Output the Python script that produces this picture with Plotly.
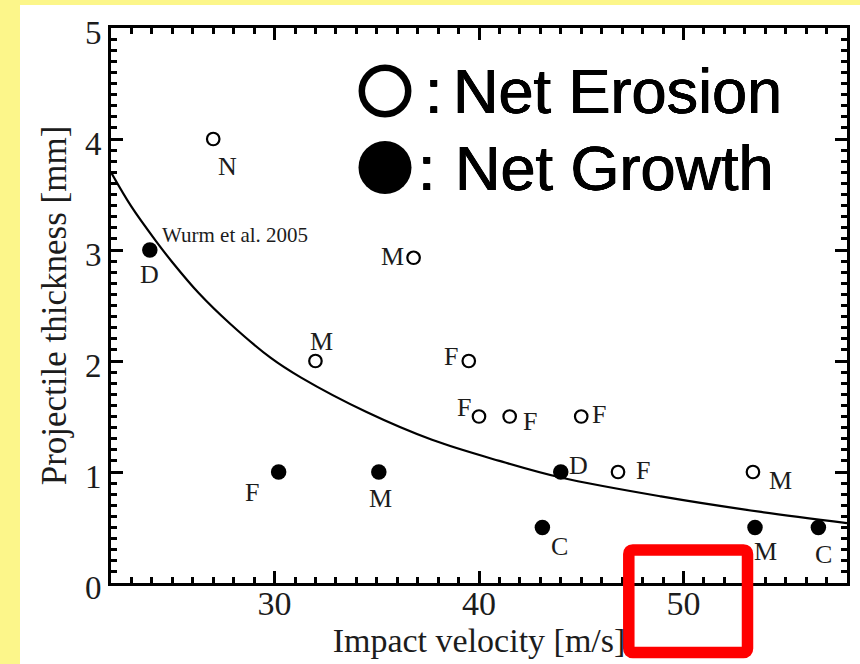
import plotly.graph_objects as go

# Impact experiments: projectile thickness vs impact velocity
erosion_v = [27.0, 36.8, 32.0, 39.5, 40.0, 41.5, 45.0, 46.8, 53.4]
erosion_t = [4.0, 2.93, 2.0, 2.0, 1.5, 1.5, 1.5, 1.0, 1.0]
erosion_lbl = ["N", "M", "M", "F", "F", "F", "F", "F", "M"]

growth_v = [23.9, 30.2, 35.1, 43.1, 44.0, 53.5, 56.6]
growth_t = [3.0, 1.0, 1.0, 0.5, 1.0, 0.5, 0.5]
growth_lbl = ["D", "F", "M", "C", "D", "M", "C"]

# erosion/growth threshold curve
curve_v = [22.0, 23.0, 24.2, 25.0, 26.3, 27.8, 29.8, 31.3, 34.5, 37.7, 41.0, 44.0, 48.9, 53.8, 58.0]
curve_t = [3.70, 3.39, 3.08, 2.89, 2.61, 2.34, 2.03, 1.85, 1.54, 1.29, 1.10, 0.95, 0.78, 0.64, 0.54]

x_ticks = [30, 40, 50]
y_ticks = [0, 1, 2, 3, 4, 5]

# label offsets (pixels, +dy = down) for each point
erosion_off = [(14, 27), (-21, -1), (6, -20), (-18, -5), (-15, -9),
               (20, 5), (18, -2), (25, -2), (28, 8)]
growth_off = [(0, 24), (-27, 20), (2, 26), (17, 19), (18, -7), (10, 24), (5, 27)]

W, H = 860, 664
ML, MR, MT, MB = 111, 13, 28, 81
PW = W - ML - MR
PH = H - MT - MB


def px(x):
    return (x - ML) / PW


def py(y):
    return (H - MB - y) / PH


SERIF = "Liberation Serif, Times New Roman, serif"
SANS = "Liberation Sans, Arial, sans-serif"
INK = "#1c1c1c"
BOLDISH = "0.45px 0 0 black, -0.45px 0 0 black, 0 0.45px 0 black, 0 -0.45px 0 black"

fig = go.Figure()

fig.add_trace(go.Scatter(
    x=curve_v, y=curve_t, mode="lines",
    line=dict(color="black", width=2.2, shape="spline", smoothing=1.0),
    hoverinfo="skip", showlegend=False,
))
fig.add_trace(go.Scatter(
    x=erosion_v, y=erosion_t, mode="markers", name="Net Erosion",
    marker=dict(symbol="circle-open", size=12.5, color="black",
                line=dict(width=2.2, color="black")),
    showlegend=False,
))
fig.add_trace(go.Scatter(
    x=growth_v, y=growth_t, mode="markers", name="Net Growth",
    marker=dict(symbol="circle", size=15.5, color="black"),
    showlegend=False,
))

annotations = []
for v, t, s, (dx, dy) in zip(erosion_v, erosion_t, erosion_lbl, erosion_off):
    annotations.append(dict(x=v, y=t, text=s, showarrow=False, xshift=dx, yshift=-dy,
                            font=dict(family=SERIF, size=26, color=INK)))
for v, t, s, (dx, dy) in zip(growth_v, growth_t, growth_lbl, growth_off):
    annotations.append(dict(x=v, y=t, text=s, showarrow=False, xshift=dx, yshift=-dy,
                            font=dict(family=SERIF, size=26, color=INK)))
annotations.append(dict(x=growth_v[0], y=growth_t[0], text="Wurm et al. 2005",
                        showarrow=False, xshift=85, yshift=15,
                        font=dict(family=SERIF, size=21, color=INK)))

# symbol key
key_font = dict(family=SANS, size=63, color="black", shadow=BOLDISH)
annotations += [
    dict(xref="paper", yref="paper", x=px(433.5), y=py(91), text=":", showarrow=False,
         xanchor="center", yanchor="middle", font=key_font),
    dict(xref="paper", yref="paper", x=px(426.5), y=py(168), text=":", showarrow=False,
         xanchor="center", yanchor="middle", font=key_font),
    dict(xref="paper", yref="paper", x=px(451), y=py(91), text="Net Erosion", showarrow=False,
         xanchor="left", yanchor="middle", font=key_font),
    dict(xref="paper", yref="paper", x=px(453), y=py(168), text="Net Growth", showarrow=False,
         xanchor="left", yanchor="middle", font=key_font),
]

# red highlight box (rounded corners)
bx0, bx1, by0, by1, r = 628.8, 747.5, 550.0, 652.5, 4.0
red_path = (
    f"M {px(bx0 + r)},{py(by0)} L {px(bx1 - r)},{py(by0)} "
    f"Q {px(bx1)},{py(by0)} {px(bx1)},{py(by0 + r)} "
    f"L {px(bx1)},{py(by1 - r)} Q {px(bx1)},{py(by1)} {px(bx1 - r)},{py(by1)} "
    f"L {px(bx0 + r)},{py(by1)} Q {px(bx0)},{py(by1)} {px(bx0)},{py(by1 - r)} "
    f"L {px(bx0)},{py(by0 + r)} Q {px(bx0)},{py(by0)} {px(bx0 + r)},{py(by0)} Z"
)

shapes = [
    dict(type="rect", xref="paper", yref="paper", layer="below",
         x0=px(20), x1=px(W + 5), y0=py(H + 5), y1=py(5),
         fillcolor="white", line=dict(width=0)),
    dict(type="circle", xref="paper", yref="paper",
         xsizemode="pixel", ysizemode="pixel",
         xanchor=px(385), yanchor=py(91), x0=-23.2, x1=23.2, y0=-23.2, y1=23.2,
         line=dict(color="black", width=6.5), fillcolor="rgba(0,0,0,0)"),
    dict(type="circle", xref="paper", yref="paper",
         xsizemode="pixel", ysizemode="pixel",
         xanchor=px(385), yanchor=py(167.5), x0=-26.5, x1=26.5, y0=-26.5, y1=26.5,
         line=dict(color="black", width=0), fillcolor="black"),
    dict(type="path", xref="paper", yref="paper", path=red_path,
         line=dict(color="#ff0000", width=11.5), fillcolor="rgba(0,0,0,0)"),
]

axis_common = dict(
    showline=True, linewidth=3, linecolor="black", mirror="allticks",
    ticks="inside", ticklen=12, tickwidth=3, tickcolor="black",
    showgrid=False, zeroline=False, automargin=False,
)

fig.update_layout(
    width=W, height=H,
    margin=dict(l=ML, r=MR, t=MT, b=MB, pad=0, autoexpand=False),
    paper_bgcolor="#fcf68a",
    plot_bgcolor="white",
    showlegend=False,
    xaxis=dict(
        range=[22, 58], tickvals=x_ticks, ticktext=[str(v) for v in x_ticks],
        tickfont=dict(family=SERIF, size=34, color=INK),
        ticklabelstandoff=-12,
        minor=dict(dtick=1, tick0=0, ticks="inside", ticklen=6, tickwidth=2.5, tickcolor="black"),
        title=dict(text="Impact velocity [m/s]", standoff=4,
                   font=dict(family=SERIF, size=34, color=INK)),
        **axis_common,
    ),
    yaxis=dict(
        range=[0, 5], tickvals=y_ticks, ticktext=[str(v) for v in y_ticks],
        tickfont=dict(family=SERIF, size=33, color=INK),
        ticklabelshift=4,
        minor=dict(dtick=0.1, tick0=0, ticks="inside", ticklen=6, tickwidth=2.5, tickcolor="black"),
        title=dict(text="Projectile thickness [mm]", standoff=8,
                   font=dict(family=SERIF, size=35, color=INK)),
        **axis_common,
    ),
    annotations=annotations,
    shapes=shapes,
)

fig.write_html("out.html", config={"displayModeBar": False})
